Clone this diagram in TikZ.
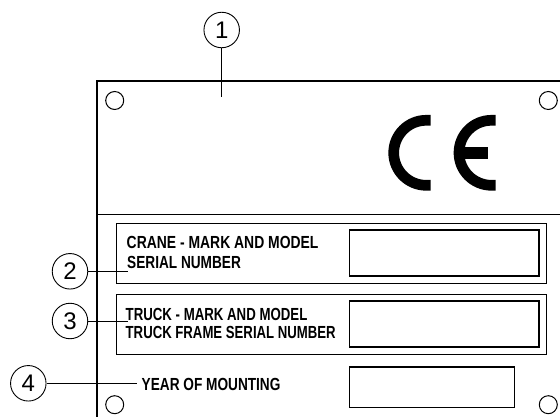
\documentclass[tikz,border=0pt]{standalone}
\usepackage{graphicx}
\usepackage{fontspec}
\setmainfont{Liberation Sans}
\newfontfamily\narrowbold[FakeStretch=0.78]{Liberation Sans Bold}
\tikzset{
  plate/.style={line width=1.3pt,black},
  hole/.style={circle,draw,line width=1pt,minimum size=18pt,inner sep=0},
  callout/.style={circle,draw,line width=0.9pt,minimum size=35.5pt,inner sep=0,font=\fontsize{24}{24}\selectfont,fill=white},
  leader/.style={line width=0.9pt},
  frameA/.style={draw,line width=1.2pt},
  plabel/.style={anchor=base west,inner sep=0,font=\narrowbold\fontsize{17.5}{17.5}\selectfont},
  ce/.style={line width=10.7pt,line cap=butt}
}
\begin{document}
\begin{tikzpicture}[x=1pt,y=-1pt]
\useasboundingbox (0,0) rectangle (560,417);
\draw[plate] (97,417) -- (97,81) -- (560,81);
\draw[plate] (97,214.5) -- (560,214.5);
\draw[frameA] (116.5,223.7) rectangle (546.8,283.3);
\draw[frameA] (116.5,294.7) rectangle (546.8,354.3);
\draw[frameA] (349.7,230) rectangle (539,276);
\draw[frameA] (349.7,301) rectangle (539,347);
\draw[frameA] (349.7,367) rectangle (514.7,407.7);
\node[hole] (h1) at (114.7,100.5) {};
\node[hole] (h2) at (548.3,100.5) {};
\node[hole] (h3) at (114.7,404.7) {};
\node[hole] (h4) at (548.3,404.7) {};
\draw[ce] (430.7,120.3) -- (426.2,120.3) arc[start angle=-90,end angle=-270,radius=32.5] -- (430.7,185.3);
\draw[ce] (495.7,120.3) -- (491.5,120.3) arc[start angle=-90,end angle=-270,radius=32.5] -- (495.7,185.3);
\fill (462,146.7) rectangle (488,158.7);
\node[callout] (c1) at (221.7,30) {1};
\node[callout] (c2) at (70,271.3) {2};
\node[callout] (c3) at (70,321) {3};
\node[callout] (c4) at (28.3,383.3) {4};
\coordinate (e1) at (221.7,97.3);
\coordinate (e2) at (128,271.3);
\coordinate (e3) at (128,321);
\coordinate (e4) at (136.7,383.3);
\draw[leader] (c1) -- (e1);
\draw[leader] (c2) -- (e2);
\draw[leader] (c3) -- (e3);
\draw[leader] (c4) -- (e4);
\node[plabel] (t1) at (126.5,248.7) {\scalebox{1.02}[1]{CRANE - MARK AND MODEL}};
\node[plabel] (t2) at (127,269) {SERIAL NUMBER};
\node[plabel] (t3) at (125.5,320) {\scalebox{0.97}[1]{TRUCK - MARK AND MODEL}};
\node[plabel] (t4) at (125.5,338.7) {\scalebox{0.965}[1]{TRUCK FRAME SERIAL NUMBER}};
\node[plabel] (t5) at (141.5,390.7) {YEAR OF MOUNTING};
\end{tikzpicture}
\end{document}
